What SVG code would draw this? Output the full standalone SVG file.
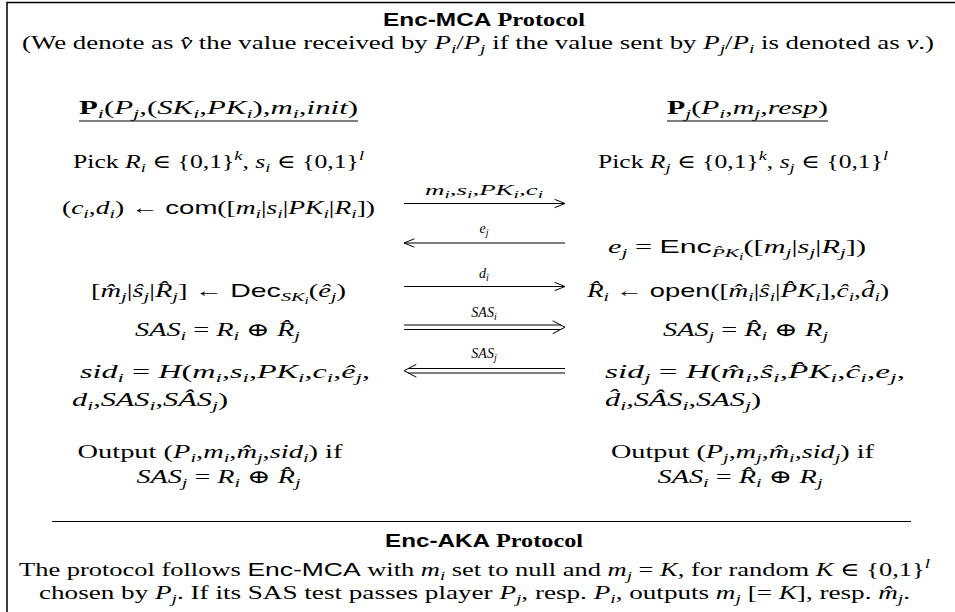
<svg xmlns="http://www.w3.org/2000/svg" width="955" height="612" viewBox="0 0 955 612">
<style>
.t{font-family:"Liberation Serif","DejaVu Serif",serif;font-size:19px;fill:#000}
.i{font-style:italic}
.bf{font-weight:bold;font-style:normal}
.rm{font-family:"Liberation Serif","DejaVu Serif",serif}
.sf{font-family:"Liberation Sans","DejaVu Sans",sans-serif;font-style:normal}
.h{font-size:18px}
.b{font-size:13.5px;baseline-shift:-4px}
.bb{font-size:10px;baseline-shift:-7px}
.u{font-size:13.5px;baseline-shift:8px}
.l{font-family:"Liberation Serif","DejaVu Serif",serif;font-size:14px;font-style:italic;fill:#000}
.lb{font-size:10px;baseline-shift:-3px}
.ln{stroke:#000;stroke-width:1;fill:none}
.hd{stroke:#000;stroke-width:1;fill:none;stroke-linecap:round;stroke-linejoin:round}
.rule{stroke:#000;stroke-width:1.2;fill:none}
</style>
<rect width="955" height="612" fill="#fff"/>
<path d="M7,612 V2.5 H955" stroke="#000" stroke-width="1.5" fill="none"/>

<g id="title">
<text class="t h" x="484" y="26" text-anchor="middle" textLength="202" lengthAdjust="spacingAndGlyphs"><tspan class="sf bf">Enc-MCA</tspan><tspan class="rm bf"> Protocol</tspan></text>
<text class="t" x="478" y="49" text-anchor="middle" textLength="912" lengthAdjust="spacingAndGlyphs">(We denote as <tspan class="i">v̂</tspan> the value received by <tspan class="i">P</tspan><tspan class="i b">i</tspan>/<tspan class="i">P</tspan><tspan class="i b">j</tspan> if the value sent by <tspan class="i">P</tspan><tspan class="i b">j</tspan>/<tspan class="i">P</tspan><tspan class="i b">i</tspan> is denoted as <tspan class="i">v</tspan>.)</text>
</g>

<g id="party-i">
<text class="t" x="218.5" y="114" text-anchor="middle" textLength="279" lengthAdjust="spacingAndGlyphs"><tspan class="bf">P</tspan><tspan class="i b">i</tspan>(<tspan class="i">P</tspan><tspan class="i b">j</tspan>,(<tspan class="i">SK</tspan><tspan class="i b">i</tspan>,<tspan class="i">PK</tspan><tspan class="i b">i</tspan>),<tspan class="i">m</tspan><tspan class="i b">i</tspan>,<tspan class="i">init</tspan>)</text>
<line class="rule" x1="79" y1="121" x2="358" y2="121"/>
<text class="t" x="218.5" y="168" text-anchor="middle" textLength="291" lengthAdjust="spacingAndGlyphs">Pick <tspan class="i">R</tspan><tspan class="i b">i</tspan> ∈ {0,1}<tspan class="i u">k</tspan>, <tspan class="i">s</tspan><tspan class="i b">i</tspan> ∈ {0,1}<tspan class="i u">l</tspan></text>
<text class="t" x="218.5" y="214" text-anchor="middle" textLength="313" lengthAdjust="spacingAndGlyphs">(<tspan class="i">c</tspan><tspan class="i b">i</tspan>,<tspan class="i">d</tspan><tspan class="i b">i</tspan>) ← <tspan class="sf">com</tspan>([<tspan class="i">m</tspan><tspan class="i b">i</tspan>|<tspan class="i">s</tspan><tspan class="i b">i</tspan>|<tspan class="i">PK</tspan><tspan class="i b">i</tspan>|<tspan class="i">R</tspan><tspan class="i b">i</tspan>])</text>
<text class="t" x="218.5" y="297" text-anchor="middle" textLength="255" lengthAdjust="spacingAndGlyphs">[<tspan class="i">m̂</tspan><tspan class="i b">j</tspan>|<tspan class="i">ŝ</tspan><tspan class="i b">j</tspan>|<tspan class="i">R̂</tspan><tspan class="i b">j</tspan>] ← <tspan class="sf">Dec</tspan><tspan class="i b">SK</tspan><tspan class="i bb">i</tspan>(<tspan class="i">ê</tspan><tspan class="i b">j</tspan>)</text>
<text class="t" x="217.5" y="336" text-anchor="middle" textLength="165" lengthAdjust="spacingAndGlyphs"><tspan class="i">SAS</tspan><tspan class="i b">i</tspan> = <tspan class="i">R</tspan><tspan class="i b">i</tspan> ⊕ <tspan class="i">R̂</tspan><tspan class="i b">j</tspan></text>
<text class="t" x="80" y="378" textLength="290" lengthAdjust="spacingAndGlyphs"><tspan class="i">sid</tspan><tspan class="i b">i</tspan> = <tspan class="i">H</tspan>(<tspan class="i">m</tspan><tspan class="i b">i</tspan>,<tspan class="i">s</tspan><tspan class="i b">i</tspan>,<tspan class="i">PK</tspan><tspan class="i b">i</tspan>,<tspan class="i">c</tspan><tspan class="i b">i</tspan>,<tspan class="i">ê</tspan><tspan class="i b">j</tspan>,</text>
<text class="t" x="72" y="406" textLength="156" lengthAdjust="spacingAndGlyphs"><tspan class="i">d</tspan><tspan class="i b">i</tspan>,<tspan class="i">SAS</tspan><tspan class="i b">i</tspan>,<tspan class="i">SÂS</tspan><tspan class="i b">j</tspan>)</text>
<text class="t" x="210" y="458" text-anchor="middle" textLength="265" lengthAdjust="spacingAndGlyphs">Output (<tspan class="i">P</tspan><tspan class="i b">i</tspan>,<tspan class="i">m</tspan><tspan class="i b">i</tspan>,<tspan class="i">m̂</tspan><tspan class="i b">j</tspan>,<tspan class="i">sid</tspan><tspan class="i b">i</tspan>) if</text>
<text class="t" x="218.5" y="483" text-anchor="middle" textLength="164" lengthAdjust="spacingAndGlyphs"><tspan class="i">SAS</tspan><tspan class="i b">j</tspan> = <tspan class="i">R</tspan><tspan class="i b">i</tspan> ⊕ <tspan class="i">R̂</tspan><tspan class="i b">j</tspan></text>
</g>

<g id="party-j">
<text class="t" x="747.5" y="114" text-anchor="middle" textLength="161" lengthAdjust="spacingAndGlyphs"><tspan class="bf">P</tspan><tspan class="i b">j</tspan>(<tspan class="i">P</tspan><tspan class="i b">i</tspan>,<tspan class="i">m</tspan><tspan class="i b">j</tspan>,<tspan class="i">resp</tspan>)</text>
<line class="rule" x1="667" y1="121" x2="828" y2="121"/>
<text class="t" x="743" y="168" text-anchor="middle" textLength="290" lengthAdjust="spacingAndGlyphs">Pick <tspan class="i">R</tspan><tspan class="i b">j</tspan> ∈ {0,1}<tspan class="i u">k</tspan>, <tspan class="i">s</tspan><tspan class="i b">j</tspan> ∈ {0,1}<tspan class="i u">l</tspan></text>
<text class="t" x="737" y="253" text-anchor="middle" textLength="258" lengthAdjust="spacingAndGlyphs"><tspan class="i">e</tspan><tspan class="i b">j</tspan> = <tspan class="sf">Enc</tspan><tspan class="i b">P̂K</tspan><tspan class="i bb">i</tspan>([<tspan class="i">m</tspan><tspan class="i b">j</tspan>|<tspan class="i">s</tspan><tspan class="i b">j</tspan>|<tspan class="i">R</tspan><tspan class="i b">j</tspan>])</text>
<text class="t" x="738" y="297" text-anchor="middle" textLength="302" lengthAdjust="spacingAndGlyphs"><tspan class="i">R̂</tspan><tspan class="i b">i</tspan> ← <tspan class="sf">open</tspan>([<tspan class="i">m̂</tspan><tspan class="i b">i</tspan>|<tspan class="i">ŝ</tspan><tspan class="i b">i</tspan>|<tspan class="i">P̂K</tspan><tspan class="i b">i</tspan>],<tspan class="i">ĉ</tspan><tspan class="i b">i</tspan>,<tspan class="i">d̂</tspan><tspan class="i b">i</tspan>)</text>
<text class="t" x="745.5" y="336" text-anchor="middle" textLength="165" lengthAdjust="spacingAndGlyphs"><tspan class="i">SAS</tspan><tspan class="i b">j</tspan> = <tspan class="i">R̂</tspan><tspan class="i b">i</tspan> ⊕ <tspan class="i">R</tspan><tspan class="i b">j</tspan></text>
<text class="t" x="605" y="378" textLength="300" lengthAdjust="spacingAndGlyphs"><tspan class="i">sid</tspan><tspan class="i b">j</tspan> = <tspan class="i">H</tspan>(<tspan class="i">m̂</tspan><tspan class="i b">i</tspan>,<tspan class="i">ŝ</tspan><tspan class="i b">i</tspan>,<tspan class="i">P̂K</tspan><tspan class="i b">i</tspan>,<tspan class="i">ĉ</tspan><tspan class="i b">i</tspan>,<tspan class="i">e</tspan><tspan class="i b">j</tspan>,</text>
<text class="t" x="605" y="406" textLength="156" lengthAdjust="spacingAndGlyphs"><tspan class="i">d̂</tspan><tspan class="i b">i</tspan>,<tspan class="i">SÂS</tspan><tspan class="i b">i</tspan>,<tspan class="i">SAS</tspan><tspan class="i b">j</tspan>)</text>
<text class="t" x="742.5" y="458" text-anchor="middle" textLength="263" lengthAdjust="spacingAndGlyphs">Output (<tspan class="i">P</tspan><tspan class="i b">j</tspan>,<tspan class="i">m</tspan><tspan class="i b">j</tspan>,<tspan class="i">m̂</tspan><tspan class="i b">i</tspan>,<tspan class="i">sid</tspan><tspan class="i b">j</tspan>) if</text>
<text class="t" x="740" y="483" text-anchor="middle" textLength="165" lengthAdjust="spacingAndGlyphs"><tspan class="i">SAS</tspan><tspan class="i b">i</tspan> = <tspan class="i">R̂</tspan><tspan class="i b">i</tspan> ⊕ <tspan class="i">R</tspan><tspan class="i b">j</tspan></text>
</g>

<g id="connectors">
<g id="msg1">
<line class="ln" x1="404" y1="203.5" x2="565" y2="203.5"/>
<path class="hd" d="M555,199.5 L565,203.5 L555,207.5"/>
<text class="l" x="484" y="195" text-anchor="middle" textLength="118" lengthAdjust="spacingAndGlyphs">m<tspan class="lb">i</tspan>,s<tspan class="lb">i</tspan>,PK<tspan class="lb">i</tspan>,c<tspan class="lb">i</tspan></text>
</g>
<g id="msg2">
<line class="ln" x1="404" y1="243" x2="565" y2="243"/>
<path class="hd" d="M414,239 L404,243 L414,247"/>
<text class="l" x="484" y="233" text-anchor="middle">e<tspan class="lb">j</tspan></text>
</g>
<g id="msg3">
<line class="ln" x1="404" y1="286.5" x2="565" y2="286.5"/>
<path class="hd" d="M555,282.5 L565,286.5 L555,290.5"/>
<text class="l" x="484" y="278" text-anchor="middle">d<tspan class="lb">i</tspan></text>
</g>
<g id="msg4">
<line class="ln" x1="404" y1="325" x2="561" y2="325"/>
<line class="ln" x1="404" y1="329.5" x2="561" y2="329.5"/>
<path class="hd" d="M553,321 L565,327.25 L553,333.5"/>
<text class="l" x="484" y="317" text-anchor="middle">SAS<tspan class="lb">i</tspan></text>
</g>
<g id="msg5">
<line class="ln" x1="408" y1="368.5" x2="565" y2="368.5"/>
<line class="ln" x1="408" y1="373" x2="565" y2="373"/>
<path class="hd" d="M416,364.5 L404,370.75 L416,377"/>
<text class="l" x="484" y="358" text-anchor="middle">SAS<tspan class="lb">j</tspan></text>
</g>
</g>

<g id="aka">
<line class="rule" x1="52" y1="521.5" x2="911" y2="521.5"/>
<text class="t h" x="484" y="547" text-anchor="middle" textLength="198" lengthAdjust="spacingAndGlyphs"><tspan class="sf bf">Enc-AKA</tspan><tspan class="rm bf"> Protocol</tspan></text>
<text class="t" x="19" y="576" textLength="911" lengthAdjust="spacingAndGlyphs">The protocol follows <tspan class="sf">Enc-MCA</tspan> with <tspan class="i">m</tspan><tspan class="i b">i</tspan> set to null and <tspan class="i">m</tspan><tspan class="i b">j</tspan> = <tspan class="i">K</tspan>, for random <tspan class="i">K</tspan> ∈ {0,1}<tspan class="i u">l</tspan></text>
<text class="t" x="39" y="599" textLength="871" lengthAdjust="spacingAndGlyphs">chosen by <tspan class="i">P</tspan><tspan class="i b">j</tspan>. If its SAS test passes player <tspan class="i">P</tspan><tspan class="i b">j</tspan>, resp. <tspan class="i">P</tspan><tspan class="i b">i</tspan>, outputs <tspan class="i">m</tspan><tspan class="i b">j</tspan> [= <tspan class="i">K</tspan>], resp. <tspan class="i">m̂</tspan><tspan class="i b">j</tspan>.</text>
</g>
</svg>
